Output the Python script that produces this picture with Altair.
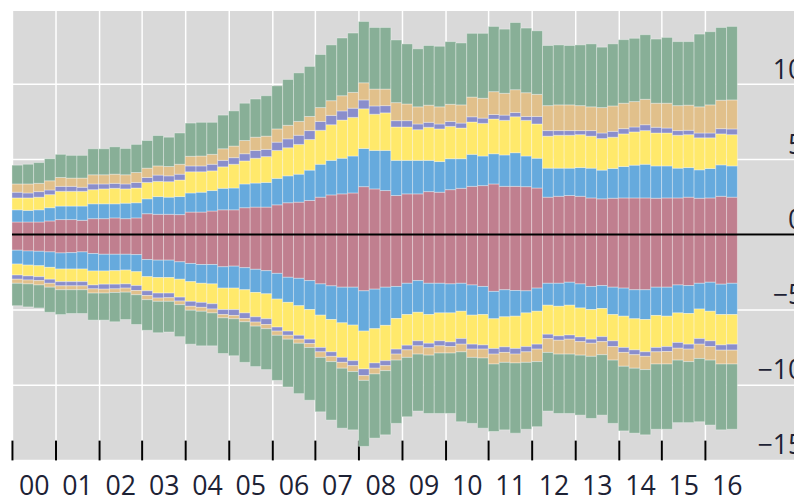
import altair as alt
import pandas as pd

# ---- data ----
START_YEAR = 2000
N_QUARTERS = 67                      # 2000Q1 .. 2016Q3
YEAR_TICKS = list(range(2000, 2017))
Y_TICKS = [-15, -10, -5, 0, 5, 10]
CATEGORIES = ["Component 1", "Component 2", "Component 3",
              "Component 4", "Component 5", "Component 6"]
COLORS = ["#C07F8F", "#66AADD", "#FFE96B", "#8A8ECC", "#E1C08B", "#88AF97"]

# positive side: cumulative stack tops
pos_1 = [0.83, 0.83, 0.83, 0.90, 0.99, 0.99, 0.94, 1.05, 1.05, 1.10, 1.05, 1.10, 1.38, 1.34, 1.34, 1.32, 1.49, 1.49, 1.56, 1.64, 1.64, 1.78, 1.82, 1.82,
         1.97, 2.11, 2.15, 2.26, 2.48, 2.63, 2.70, 2.76, 3.18, 3.03, 2.92, 2.59, 2.70, 2.70, 2.85, 2.81, 2.98, 3.07, 3.20, 3.25, 3.36, 3.20, 3.20, 3.18,
         3.09, 2.48, 2.54, 2.59, 2.54, 2.43, 2.37, 2.41, 2.43, 2.43, 2.43, 2.41, 2.43, 2.43, 2.48, 2.41, 2.43, 2.54, 2.48]
pos_2 = [1.64, 1.60, 1.64, 1.78, 1.89, 1.89, 1.89, 2.04, 2.04, 2.04, 2.08, 2.11, 2.37, 2.52, 2.48, 2.52, 2.76, 2.81, 2.92, 3.07, 3.09, 3.36, 3.42, 3.46,
         3.73, 3.90, 4.01, 4.28, 4.67, 4.93, 5.07, 5.22, 5.72, 5.59, 5.59, 4.93, 4.93, 4.93, 4.93, 4.85, 5.04, 5.04, 5.33, 5.22, 5.37, 5.29, 5.44, 5.22,
         5.07, 4.41, 4.41, 4.41, 4.45, 4.41, 4.28, 4.39, 4.52, 4.61, 4.67, 4.56, 4.56, 4.41, 4.45, 4.30, 4.39, 4.63, 4.56]
pos_3 = [2.43, 2.43, 2.48, 2.65, 2.87, 2.87, 2.87, 2.98, 3.03, 3.07, 3.03, 3.09, 3.46, 3.53, 3.51, 3.62, 4.17, 4.17, 4.23, 4.50, 4.67, 4.89, 5.07, 5.18,
         5.59, 5.77, 5.99, 6.32, 6.93, 7.30, 7.61, 7.79, 8.36, 8.00, 8.09, 7.15, 7.15, 6.97, 7.13, 7.02, 7.19, 7.08, 7.48, 7.39, 7.68, 7.59, 7.83, 7.59,
         7.35, 6.54, 6.60, 6.60, 6.64, 6.54, 6.38, 6.47, 6.69, 6.82, 6.91, 6.75, 6.75, 6.60, 6.64, 6.43, 6.43, 6.69, 6.64]
pos_4 = [2.81, 2.76, 2.85, 2.96, 3.20, 3.20, 3.14, 3.36, 3.36, 3.40, 3.36, 3.46, 3.79, 3.95, 3.90, 4.01, 4.56, 4.56, 4.67, 4.93, 5.11, 5.37, 5.59, 5.66,
         6.14, 6.36, 6.60, 6.91, 7.52, 7.92, 8.22, 8.40, 8.95, 8.55, 8.57, 7.57, 7.57, 7.35, 7.46, 7.35, 7.52, 7.41, 7.83, 7.74, 7.98, 7.94, 8.11, 7.85,
         7.85, 6.91, 6.91, 6.91, 6.91, 6.91, 6.75, 6.86, 7.04, 7.15, 7.30, 7.13, 7.08, 6.91, 6.93, 6.75, 6.75, 7.04, 7.02]
pos_5 = [3.36, 3.36, 3.40, 3.57, 3.79, 3.75, 3.75, 3.97, 3.97, 4.01, 3.97, 4.12, 4.41, 4.56, 4.52, 4.67, 5.20, 5.22, 5.33, 5.70, 5.88, 6.25, 6.47, 6.54,
         7.02, 7.26, 7.52, 7.85, 8.44, 8.90, 9.23, 9.45, 10.09, 9.67, 9.67, 8.77, 8.68, 8.49, 8.60, 8.49, 8.66, 8.62, 9.14, 9.06, 9.50, 9.39, 9.63, 9.43,
         9.32, 8.57, 8.62, 8.62, 8.57, 8.49, 8.44, 8.55, 8.73, 8.84, 8.99, 8.73, 8.73, 8.57, 8.60, 8.49, 8.62, 8.93, 8.95]
pos_6 = [4.61, 4.67, 4.78, 5.04, 5.33, 5.26, 5.26, 5.70, 5.70, 5.83, 5.72, 5.99, 6.25, 6.58, 6.47, 6.75, 7.41, 7.46, 7.46, 7.94, 8.22, 8.73, 9.01, 9.23,
         9.89, 10.31, 10.75, 11.18, 11.97, 12.61, 13.07, 13.40, 14.17, 13.77, 13.77, 12.94, 12.68, 12.35, 12.57, 12.52, 12.83, 12.74, 13.38, 13.38, 13.84, 13.66, 14.10, 13.73,
         13.55, 12.57, 12.61, 12.57, 12.61, 12.68, 12.46, 12.68, 12.96, 13.05, 13.29, 13.00, 13.11, 12.83, 12.83, 13.33, 13.49, 13.77, 13.84]

# negative side: cumulative stack bottoms
neg_1 = [-1.05, -1.10, -1.12, -1.16, -1.23, -1.21, -1.16, -1.27, -1.32, -1.32, -1.32, -1.34, -1.67, -1.71, -1.71, -1.82, -1.93, -2.00, -2.00, -2.15, -2.11, -2.21, -2.32, -2.41,
         -2.59, -2.85, -2.92, -3.07, -3.29, -3.42, -3.51, -3.51, -3.75, -3.64, -3.51, -3.46, -3.25, -3.07, -3.25, -3.25, -3.29, -3.25, -3.36, -3.46, -3.79, -3.68, -3.73, -3.75,
         -3.57, -3.25, -3.25, -3.18, -3.29, -3.46, -3.40, -3.51, -3.57, -3.68, -3.68, -3.51, -3.51, -3.36, -3.40, -3.25, -3.18, -3.31, -3.25]
neg_2 = [-1.97, -2.04, -2.08, -2.19, -2.30, -2.30, -2.30, -2.43, -2.43, -2.41, -2.37, -2.48, -2.81, -2.87, -2.87, -2.98, -3.14, -3.25, -3.29, -3.57, -3.57, -3.68, -3.86, -3.95,
         -4.30, -4.52, -4.74, -5.00, -5.37, -5.66, -5.88, -6.03, -6.43, -6.27, -6.05, -5.59, -5.33, -5.18, -5.33, -5.22, -5.22, -5.11, -5.37, -5.33, -5.61, -5.48, -5.44, -5.22,
         -5.11, -4.71, -4.78, -4.71, -4.89, -5.00, -4.93, -5.33, -5.44, -5.61, -5.66, -5.39, -5.44, -5.22, -5.26, -4.96, -5.11, -5.33, -5.33]
neg_3 = [-2.70, -2.76, -2.81, -2.98, -3.14, -3.14, -3.14, -3.36, -3.31, -3.31, -3.29, -3.40, -3.75, -3.90, -3.90, -4.17, -4.45, -4.52, -4.61, -5.00, -5.00, -5.22, -5.48, -5.61,
         -6.16, -6.43, -6.71, -6.97, -7.52, -7.81, -8.18, -8.40, -8.95, -8.55, -8.40, -7.63, -7.37, -7.08, -7.24, -7.08, -7.15, -6.93, -7.30, -7.35, -7.59, -7.48, -7.59, -7.46,
         -7.30, -6.64, -6.75, -6.69, -6.82, -6.97, -6.80, -7.08, -7.52, -7.68, -7.81, -7.52, -7.46, -7.19, -7.30, -6.93, -7.08, -7.35, -7.30]
neg_4 = [-2.98, -3.03, -3.07, -3.25, -3.42, -3.42, -3.42, -3.62, -3.64, -3.62, -3.57, -3.73, -4.06, -4.23, -4.21, -4.43, -4.78, -4.85, -4.96, -5.33, -5.39, -5.59, -5.83, -5.99,
         -6.43, -6.71, -6.97, -7.26, -7.81, -8.11, -8.51, -8.73, -9.39, -8.90, -8.73, -7.96, -7.68, -7.41, -7.54, -7.41, -7.46, -7.30, -7.63, -7.63, -7.96, -7.85, -7.96, -7.81,
         -7.63, -6.93, -7.04, -6.97, -7.13, -7.24, -7.13, -7.46, -7.85, -8.00, -8.11, -7.81, -7.79, -7.57, -7.63, -7.30, -7.46, -7.70, -7.70]
neg_5 = [-3.25, -3.29, -3.36, -3.51, -3.68, -3.68, -3.68, -3.90, -3.90, -3.86, -3.84, -4.01, -4.34, -4.45, -4.45, -4.67, -5.04, -5.11, -5.22, -5.55, -5.61, -5.81, -6.10, -6.27,
         -6.71, -6.97, -7.24, -7.52, -8.18, -8.46, -8.90, -9.12, -9.71, -9.28, -9.06, -8.36, -8.18, -7.96, -8.03, -7.89, -7.89, -7.81, -8.18, -8.22, -8.62, -8.51, -8.55, -8.51,
         -8.46, -7.85, -7.96, -7.96, -8.03, -8.11, -8.00, -8.36, -8.77, -8.90, -8.99, -8.62, -8.62, -8.36, -8.46, -8.25, -8.36, -8.62, -8.62]
neg_6 = [-4.74, -4.82, -4.89, -5.18, -5.33, -5.26, -5.26, -5.70, -5.70, -5.81, -5.66, -5.99, -6.38, -6.54, -6.49, -6.80, -7.30, -7.41, -7.41, -7.92, -8.07, -8.51, -8.79, -8.99,
         -9.71, -10.15, -10.59, -11.03, -11.80, -12.35, -12.89, -13.00, -14.10, -13.55, -13.33, -12.57, -12.13, -11.75, -11.91, -11.91, -11.91, -12.46, -12.57, -12.89, -13.11, -13.00, -13.22, -12.96,
         -12.79, -11.75, -11.91, -11.91, -12.02, -12.24, -12.02, -12.57, -13.07, -13.22, -13.33, -12.96, -12.96, -12.52, -12.52, -12.46, -12.68, -13.00, -12.96]

POS = [pos_1, pos_2, pos_3, pos_4, pos_5, pos_6]
NEG = [neg_1, neg_2, neg_3, neg_4, neg_5, neg_6]

rows = []
for i in range(N_QUARTERS):
    t = START_YEAR + i / 4
    for side in (POS, NEG):
        lo = 0.0
        for cat, arr in zip(CATEGORIES, side):
            hi = arr[i]
            rows.append({"t": t, "t2": t + 0.25, "cat": cat, "lo": lo, "hi": hi})
            lo = hi
df = pd.DataFrame(rows)

FONT = "Open Sans"
TXT = "#1d2235"

x_scale = alt.Scale(domain=[2000, 2018.057], nice=False, zero=False)
y_scale = alt.Scale(domain=[-15, 14.9], nice=False, zero=False)

bars = alt.Chart(df).mark_bar(stroke="white", strokeWidth=1, strokeOpacity=0.35).encode(
    x=alt.X("t:Q", scale=x_scale, title=None,
            axis=alt.Axis(values=YEAR_TICKS,
                          labelExpr="substring(toString(datum.value), 2)",
                          domain=False, ticks=True, tickSize=20, tickWidth=2,
                          tickColor="black", offset=-20, labelOffset=22,
                          labelPadding=35, labelBaseline="alphabetic",
                          labelAlign="center", labelFontSize=27, labelFont=FONT,
                          labelColor=TXT, labelOverlap=False, labelFlush=False,
                          grid=True, gridColor="white", gridWidth=1.5)),
    x2="t2:Q",
    y=alt.Y("lo:Q", scale=y_scale, title=None,
            axis=alt.Axis(orient="right", values=Y_TICKS, format="d",
                          domain=False, ticks=False, labelPadding=9,
                          labelAlign="right", labelBaseline="alphabetic",
                          labelOffset=-6, labelFontSize=27, labelFont=FONT,
                          labelColor=TXT, labelOverlap=False, labelFlush=False,
                          grid=True, gridColor="white", gridWidth=1.5)),
    y2="hi:Q",
    color=alt.Color("cat:N", scale=alt.Scale(domain=CATEGORIES, range=COLORS), legend=None),
)

zero = alt.Chart(pd.DataFrame({"v": [0]})).mark_rule(color="black", strokeWidth=2).encode(
    y=alt.Y("v:Q", scale=y_scale)
)

chart = alt.layer(bars, zero).properties(
    width=790, height=454,
    padding={"left": 4, "top": 0, "right": 0, "bottom": 40},
    autosize=alt.AutoSizeParams(type="none"),
    background="white",
).configure_view(fill="#D9D9D9", stroke="transparent")

chart.save("out.html", embed_options={"renderer": "svg", "actions": False})
